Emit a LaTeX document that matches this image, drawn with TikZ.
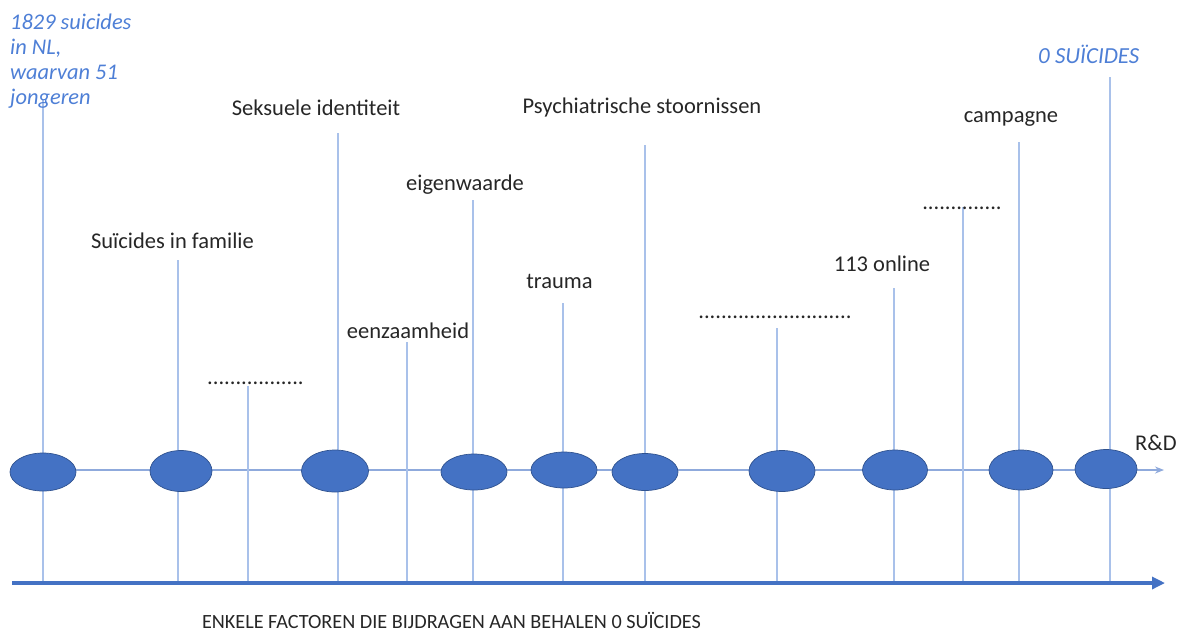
\documentclass[tikz,border=0pt]{standalone}
\usepackage{fontspec}
\setmainfont{Carlito}
\usetikzlibrary{arrows.meta,shapes.geometric}
\definecolor{axisblue}{HTML}{4472C4}
\definecolor{darkblue}{HTML}{2F528F}
\definecolor{lightblue}{HTML}{A9C1EA}
\definecolor{midblue}{HTML}{8FAADC}
\definecolor{titleblue}{HTML}{4E7FD6}
\definecolor{txt}{HTML}{262626}
\begin{document}
\begin{tikzpicture}[x=1pt,y=-1pt,
  vline/.style={draw=lightblue, line width=1.3pt},
  midline/.style={draw=midblue, line width=1.3pt, -{Stealth[length=9pt,width=7pt]}},
  baseaxis/.style={draw=axisblue, line width=3.2pt, -{Triangle[length=13pt,width=12pt]}},
  dot/.style={ellipse, fill=axisblue, draw=darkblue, line width=0.7pt, inner sep=0},
  lab/.style={font=\fontsize{22.5}{26}\selectfont, text=txt, inner sep=0, anchor=base},
  dotlab/.style={font=\fontsize{22.5}{26}\selectfont, text=txt, inner sep=0, anchor=base},
  bluelab/.style={font=\fontsize{22.4}{25}\selectfont\itshape, text=titleblue, inner sep=0},
]
\useasboundingbox (0,0) rectangle (1182,641);

% axes
\coordinate (mL) at (11,470);
\coordinate (mR) at (1164,470);
\draw[midline] (mL) -- (mR);
\coordinate (aL) at (12,583);
\coordinate (aR) at (1165,583);

% vertical lines
\foreach \i/\x/\y in {1/43/100, 2/178/260, 3/248/386, 4/338/133, 5/407/342, 6/473/200,
  7/563/303, 8/645/145, 9/777/328, 10/894/288, 11/963/207, 12/1019/142, 13/1110/77} {
  \coordinate (t\i) at (\x,\y);
  \coordinate (b\i) at (\x,582);
  \draw[vline] (t\i) -- (b\i);
}
\draw[baseaxis] (aL) -- (aR);

% ellipses
\node[dot, minimum width=66pt, minimum height=38pt] (e1) at (43,472) {};
\node[dot, minimum width=62pt, minimum height=41pt] (e2) at (181,471) {};
\node[dot, minimum width=67pt, minimum height=42pt] (e3) at (335,471) {};
\node[dot, minimum width=66pt, minimum height=36pt] (e4) at (474,472) {};
\node[dot, minimum width=66pt, minimum height=36pt] (e5) at (564,470) {};
\node[dot, minimum width=66pt, minimum height=37pt] (e6) at (645,472) {};
\node[dot, minimum width=66pt, minimum height=41pt] (e7) at (782,471) {};
\node[dot, minimum width=65pt, minimum height=40pt] (e8) at (895,470) {};
\node[dot, minimum width=64pt, minimum height=40pt] (e9) at (1021,470) {};
\node[dot, minimum width=62pt, minimum height=39pt] (e10) at (1106,469) {};

% labels
\node[lab] (l2) at (172.5,248) {Suïcides in familie};
\node[lab] (l4) at (316,115) {Seksuele identiteit};
\node[lab] (l6) at (465,190) {eigenwaarde};
\node[lab] (l7) at (559.5,288) {trauma};
\node[lab] (l5) at (408,338) {eenzaamheid};
\node[lab] (l8) at (642,113) {Psychiatrische stoornissen};
\node[lab] (l12) at (1011,122) {campagne};
\node[lab] (l10) at (882,271) {113 online};
\node[lab, anchor=base west] (rd) at (1135,450) {R\&D};
\node[dotlab] (d3) at (255.5,384) {.................};
\node[dotlab] (d9) at (775,318) {...........................};
\node[dotlab] (d11) at (962,209) {..............};

\node[bluelab, anchor=base west, align=left] (start) at (10,104)
  {1829 suicides\\in NL,\\waarvan 51\\jongeren};
\node[bluelab, font=\fontsize{23}{26}\selectfont\itshape, anchor=base west] (goal) at (1038,63) {0 SUÏCIDES};

\node[font=\fontsize{20.2}{24}\selectfont, text=txt, inner sep=0, anchor=base] (title) at (451.5,628)
  {ENKELE FACTOREN DIE BIJDRAGEN AAN BEHALEN 0 SUÏCIDES};
\end{tikzpicture}
\end{document}
